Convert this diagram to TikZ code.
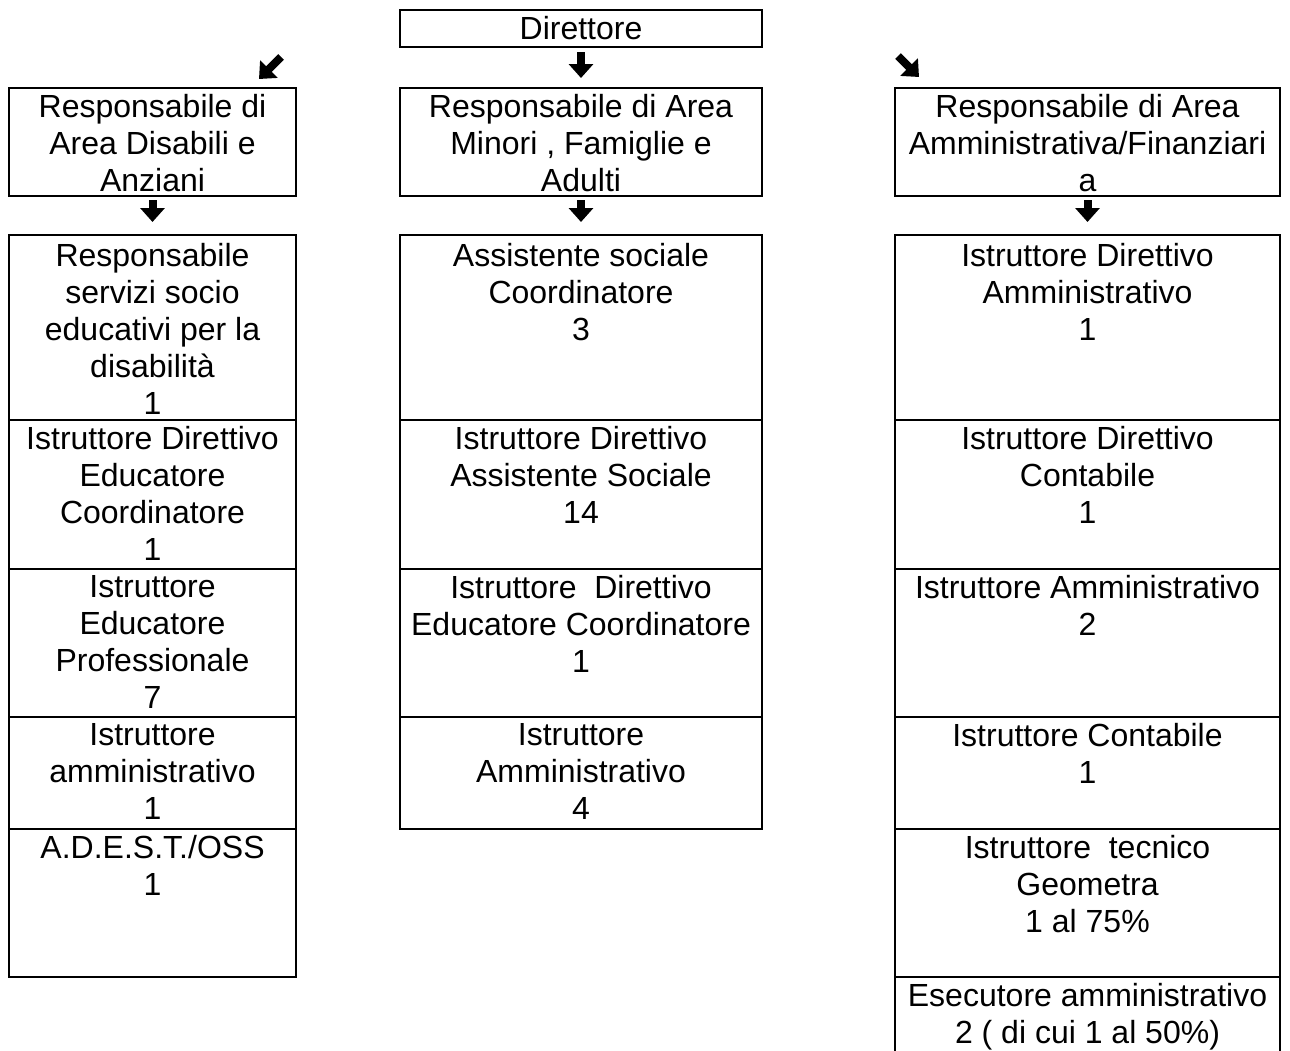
\documentclass[tikz,border=0pt]{standalone}
\usepackage{fontspec}
\setmainfont{Liberation Sans}
\usetikzlibrary{positioning,arrows.meta}
\tikzstyle{cell} = [rectangle, draw, line width=1pt, inner sep=0pt, outer sep=0pt,
    anchor=north, font=\fontsize{16}{18.5}\selectfont]
\tikzstyle{txt} = [align=center, inner sep=0pt, anchor=north, yshift=-3pt,
    font=\fontsize{16}{18.5}\selectfont]
\tikzstyle{lcol} = [cell, minimum width=143.5pt]
\tikzstyle{ccol} = [cell, minimum width=181pt]
\tikzstyle{rcol} = [cell, minimum width=192.5pt]
\tikzstyle{line} = [draw, line width=4pt, -{Triangle[width=12pt,length=7pt]}]

\begin{document}
\begin{tikzpicture}[x=0.5pt, y=-0.5pt]
  \clip (0,0) rectangle (1290,1050);
  \node [ccol, minimum height=18.5pt] (Dir) at (581,10) {Direttore};
  % heads
  \node [lcol, minimum height=54pt, label={[txt]north:{Responsabile di\\Area Disabili e\\Anziani}}] (Dis) at (152.5,88) {};
  \node [ccol, minimum height=54pt, label={[txt]north:{Responsabile di Area\\Minori , Famiglie e\\Adulti}}] (Min) at (581,88) {};
  \node [rcol, minimum height=54pt, label={[txt]north:{Responsabile di Area\\Amministrativa/Finanziari\\a}}] (Amm) at (1087.5,88) {};
  %
  \node [lcol, minimum height=92.5pt, label={[txt, yshift=-1pt]north:{Responsabile\\servizi socio\\educativi per la\\disabilità\\1}}] (Dis1) at (152.5,235) {};
  \node [lcol, minimum height=74.5pt, below=0pt of Dis1, label={[txt]north:{Istruttore Direttivo\\Educatore\\Coordinatore\\1}}] (Dis2) {};
  \node [lcol, minimum height=74pt, below=0pt of Dis2, label={[txt]north:{Istruttore\\Educatore\\Professionale\\7}}] (Dis3) {};
  \node [lcol, minimum height=56pt, below=0pt of Dis3, label={[txt]north:{Istruttore\\amministrativo\\1}}] (Dis4) {};
  \node [lcol, minimum height=74pt, below=0pt of Dis4, label={[txt]north:{A.D.E.S.T./OSS\\1}}] (Dis5) {};
  %
  \node [ccol, minimum height=92.5pt, label={[txt, yshift=-1pt]north:{Assistente sociale\\Coordinatore\\3}}] (Min1) at (581,235) {};
  \node [ccol, minimum height=74.5pt, below=0pt of Min1, label={[txt]north:{Istruttore Direttivo\\Assistente Sociale\\14}}] (Min2) {};
  \node [ccol, minimum height=74pt, below=0pt of Min2, label={[txt]north:{Istruttore\ \ Direttivo\\Educatore Coordinatore\\1}}] (Min3) {};
  \node [ccol, minimum height=56pt, below=0pt of Min3, label={[txt]north:{Istruttore\\Amministrativo\\4}}] (Min4) {};
  %
  \node [rcol, minimum height=92.5pt, label={[txt, yshift=-1pt]north:{Istruttore Direttivo\\Amministrativo\\1}}] (Amm1) at (1087.5,235) {};
  \node [rcol, minimum height=74.5pt, below=0pt of Amm1, label={[txt]north:{Istruttore Direttivo\\Contabile\\1}}] (Amm2) {};
  \node [rcol, minimum height=74pt, below=0pt of Amm2, label={[txt]north:{Istruttore Amministrativo\\2}}] (Amm3) {};
  \node [rcol, minimum height=56pt, below=0pt of Amm3, label={[txt]north:{Istruttore Contabile\\1}}] (Amm4) {};
  \node [rcol, minimum height=74pt, below=0pt of Amm4, label={[txt]north:{Istruttore\ \ tecnico\\Geometra\\1 al 75\%}}] (Amm5) {};
  \node [rcol, minimum height=60pt, below=0pt of Amm5, label={[txt]north:{Esecutore amministrativo\\2 ( di cui 1 al 50\%)}}] (Amm6) {};
  %
  \coordinate (LtA) at (281,57);
  \coordinate (LtB) at (259,79);
  \coordinate (RtA) at (898,56);
  \coordinate (RtB) at (919,77);
  \path [line] (LtA) -- (LtB);
  \path [line] (RtA) -- (RtB);
  \path [line, shorten <=2.5pt, shorten >=5pt] (Dir) -- (Min);
  %
  \path [line, shorten <=2pt, shorten >=6.5pt] (Dis) -- (Dis1);
  \path [line, shorten <=2pt, shorten >=6.5pt] (Min) -- (Min1);
  \path [line, shorten <=2pt, shorten >=6.5pt] (Amm) -- (Amm1);
\end{tikzpicture}
\end{document}
